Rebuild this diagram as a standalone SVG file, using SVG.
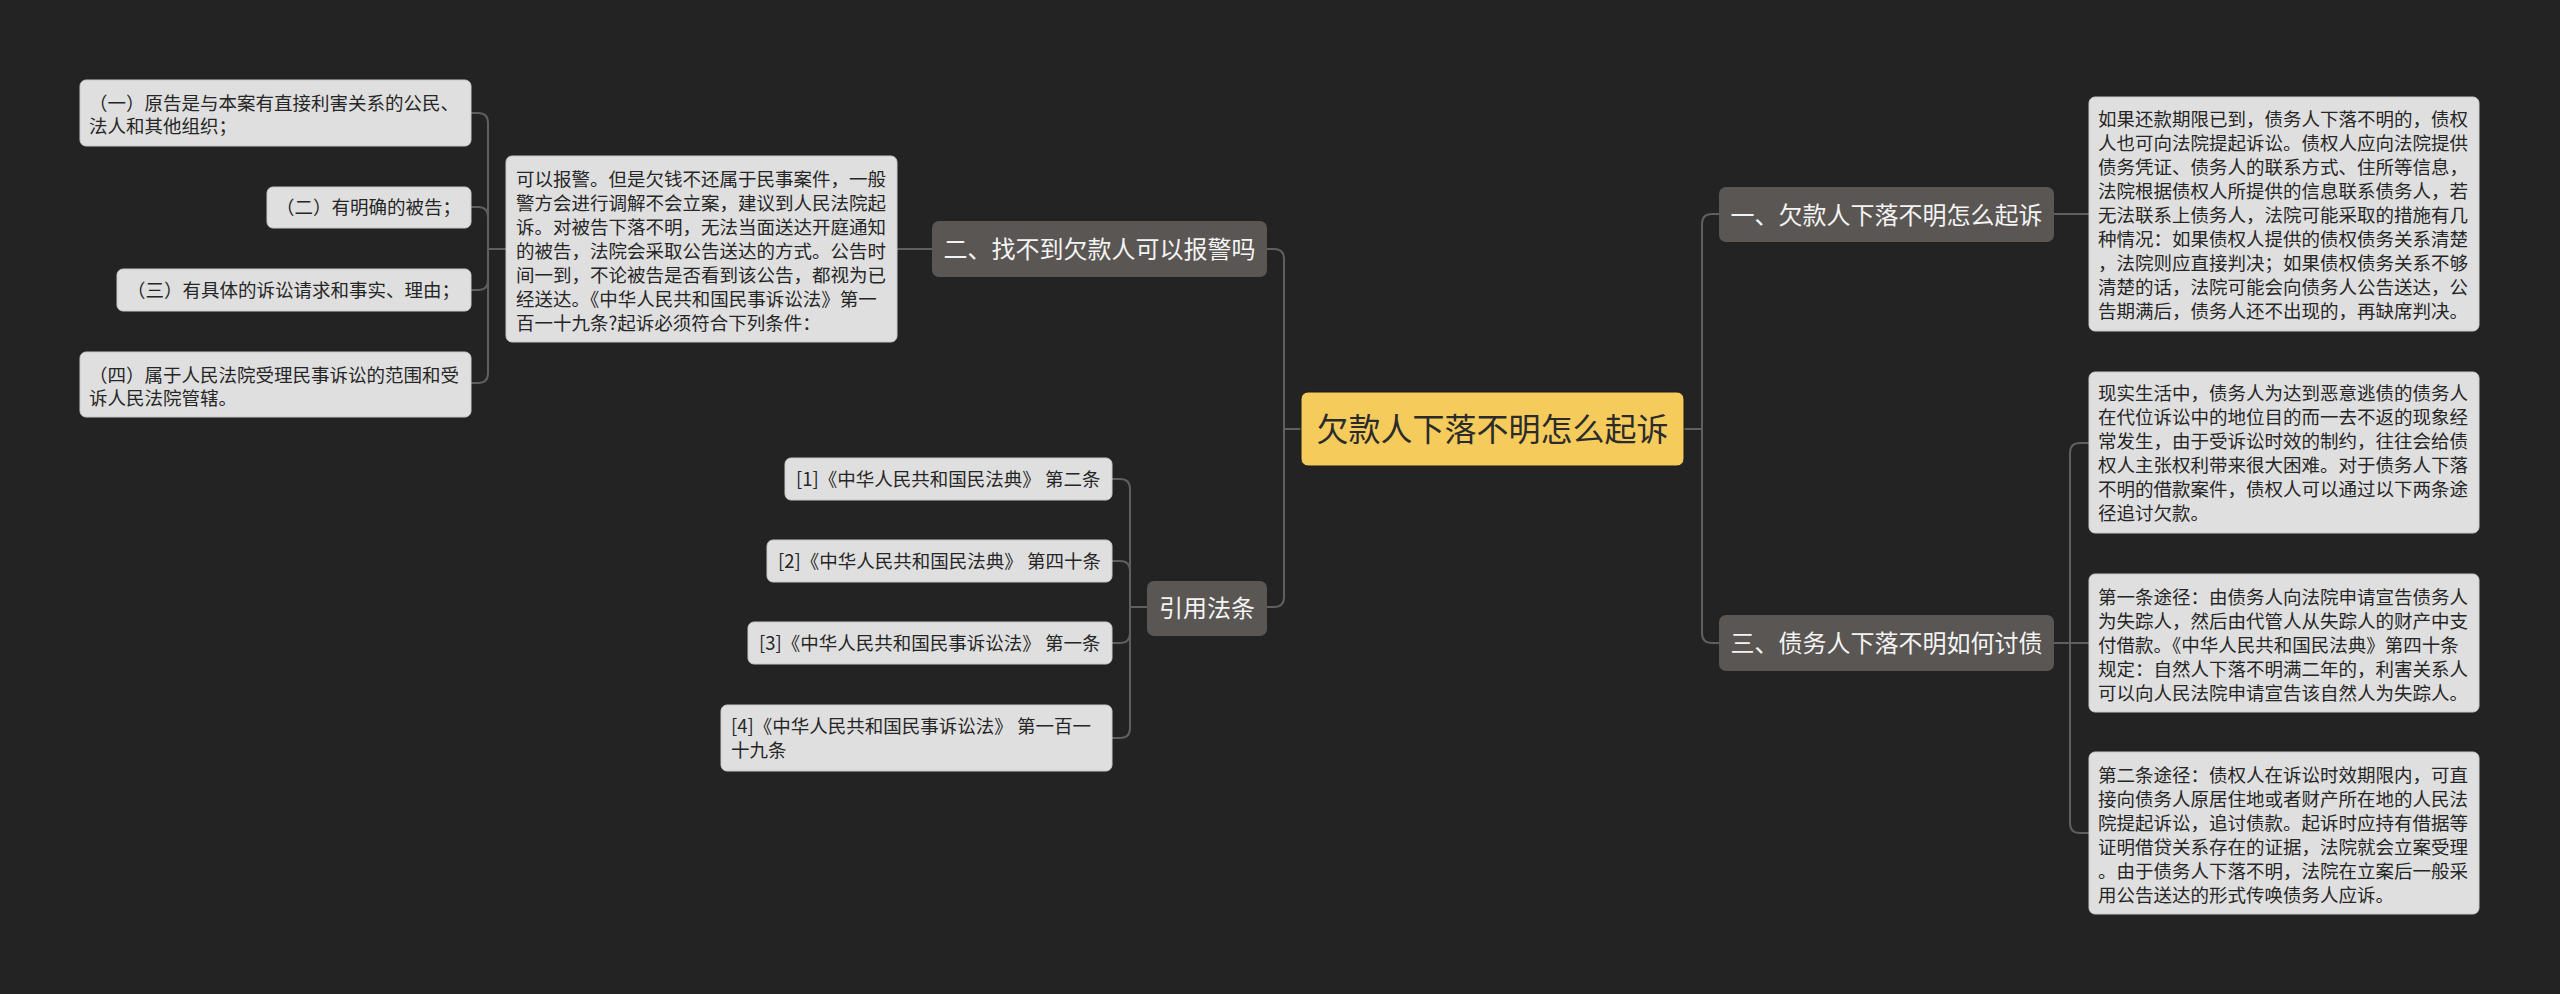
<svg xmlns="http://www.w3.org/2000/svg" width="2560" height="994" viewBox="0 0 2560 994">
<style>
text{font-family:"Noto Sans CJK SC","Noto Sans",sans-serif;}
.bg{fill:#232323;}
.root rect{fill:#f5cb5c;stroke:#1a1a1a;stroke-width:1;}
.root text{fill:#2b2b2b;font-size:32px;text-anchor:middle;}
.sub rect{fill:#5a5653;}
.sub text{fill:#f4f4f4;font-size:24px;text-anchor:middle;}
.leaf rect{fill:#dfdfdf;stroke:#c9c9c9;stroke-width:1;}
.leaf text{fill:#262626;font-size:18.5px;}
.conn path{fill:none;stroke:#5f5f5f;stroke-width:2;}
</style>
<rect class="bg" x="0" y="0" width="2560" height="994"/>

<g class="conn" id="connectors">
  <!-- root left -->
  <path d="M1301,429 H1284"/>
  <path d="M1267,249 H1274 Q1284,249 1284,259 V597 Q1284,607 1274,607 H1267"/>
  <!-- root right -->
  <path d="M1684,429 H1702"/>
  <path d="M1719,214 H1712 Q1702,214 1702,224 V633 Q1702,643 1712,643 H1719"/>
  <!-- 二 to detail -->
  <path d="M932,249 H897"/>
  <!-- detail to conditions -->
  <path d="M506,249 H488"/>
  <path d="M471,113 H478 Q488,113 488,123 V373 Q488,383 478,383 H471"/>
  <path d="M471,207 H478 Q488,207 488,217"/>
  <path d="M471,290 H478 Q488,290 488,280"/>
  <!-- 引用法条 to cites -->
  <path d="M1147,607 H1130"/>
  <path d="M1112,479 H1120 Q1130,479 1130,489 V728 Q1130,738 1120,738 H1112"/>
  <path d="M1112,561 H1120 Q1130,561 1130,571"/>
  <path d="M1112,643 H1120 Q1130,643 1130,633"/>
  <!-- 一 to detail -->
  <path d="M2054,214 H2089"/>
  <!-- 三 to details -->
  <path d="M2054,643 H2089"/>
  <path d="M2089,443 H2080 Q2070,443 2070,453 V823 Q2070,833 2080,833 H2089"/>
</g>

<g class="root" id="root">
  <rect x="1301" y="392" width="383" height="74" rx="7"/>
  <text x="1492.5" y="441">欠款人下落不明怎么起诉</text>
</g>

<g class="sub" id="n-yi">
  <rect x="1719" y="187" width="335" height="55" rx="7"/>
  <text x="1886.5" y="224">一、欠款人下落不明怎么起诉</text>
</g>
<g class="sub" id="n-san">
  <rect x="1719" y="615" width="335" height="56" rx="7"/>
  <text x="1886.5" y="652">三、债务人下落不明如何讨债</text>
</g>
<g class="sub" id="n-er">
  <rect x="932" y="221" width="335" height="56" rx="7"/>
  <text x="1099.5" y="258">二、找不到欠款人可以报警吗</text>
</g>
<g class="sub" id="n-cite">
  <rect x="1147" y="581" width="120" height="55" rx="7"/>
  <text x="1207" y="617">引用法条</text>
</g>

<g class="leaf" id="d-yi">
  <rect x="2089" y="97" width="390" height="234" rx="6"/>
  <text x="2098" y="126">如果还款期限已到，债务人下落不明的，债权</text>
  <text x="2098" y="150">人也可向法院提起诉讼。债权人应向法院提供</text>
  <text x="2098" y="174">债务凭证、债务人的联系方式、住所等信息，</text>
  <text x="2098" y="198">法院根据债权人所提供的信息联系债务人，若</text>
  <text x="2098" y="222">无法联系上债务人，法院可能采取的措施有几</text>
  <text x="2098" y="246">种情况：如果债权人提供的债权债务关系清楚</text>
  <text x="2098" y="270">，法院则应直接判决；如果债权债务关系不够</text>
  <text x="2098" y="294">清楚的话，法院可能会向债务人公告送达，公</text>
  <text x="2098" y="318">告期满后，债务人还不出现的，再缺席判决。</text>
</g>

<g class="leaf" id="d-san-0">
  <rect x="2089" y="372" width="390" height="161" rx="6"/>
  <text x="2098" y="400">现实生活中，债务人为达到恶意逃债的债务人</text>
  <text x="2098" y="424">在代位诉讼中的地位目的而一去不返的现象经</text>
  <text x="2098" y="448">常发生，由于受诉讼时效的制约，往往会给债</text>
  <text x="2098" y="472">权人主张权利带来很大困难。对于债务人下落</text>
  <text x="2098" y="496">不明的借款案件，债权人可以通过以下两条途</text>
  <text x="2098" y="520">径追讨欠款。</text>
</g>

<g class="leaf" id="d-san-1">
  <rect x="2089" y="574" width="390" height="138" rx="6"/>
  <text x="2098" y="604">第一条途径：由债务人向法院申请宣告债务人</text>
  <text x="2098" y="628">为失踪人，然后由代管人从失踪人的财产中支</text>
  <text x="2098" y="652">付借款。《中华人民共和国民法典》第四十条</text>
  <text x="2098" y="676">规定：自然人下落不明满二年的，利害关系人</text>
  <text x="2098" y="700">可以向人民法院申请宣告该自然人为失踪人。</text>
</g>

<g class="leaf" id="d-san-2">
  <rect x="2089" y="752" width="390" height="162" rx="6"/>
  <text x="2098" y="782">第二条途径：债权人在诉讼时效期限内，可直</text>
  <text x="2098" y="806">接向债务人原居住地或者财产所在地的人民法</text>
  <text x="2098" y="830">院提起诉讼，追讨债款。起诉时应持有借据等</text>
  <text x="2098" y="854">证明借贷关系存在的证据，法院就会立案受理</text>
  <text x="2098" y="878">。由于债务人下落不明，法院在立案后一般采</text>
  <text x="2098" y="902">用公告送达的形式传唤债务人应诉。</text>
</g>

<g class="leaf" id="d-er">
  <rect x="506" y="156" width="391" height="186" rx="6"/>
  <text x="516" y="186">可以报警。但是欠钱不还属于民事案件，一般</text>
  <text x="516" y="210">警方会进行调解不会立案，建议到人民法院起</text>
  <text x="516" y="234">诉。对被告下落不明，无法当面送达开庭通知</text>
  <text x="516" y="258">的被告，法院会采取公告送达的方式。公告时</text>
  <text x="516" y="282">间一到，不论被告是否看到该公告，都视为已</text>
  <text x="516" y="306">经送达。《中华人民共和国民事诉讼法》第一</text>
  <text x="516" y="330">百一十九条?起诉必须符合下列条件：</text>
</g>

<g class="leaf" id="c1">
  <rect x="80" y="80" width="391" height="66" rx="6"/>
  <text x="89" y="110">（一）原告是与本案有直接利害关系的公民、</text>
  <text x="89" y="133">法人和其他组织；</text>
</g>
<g class="leaf" id="c2">
  <rect x="267" y="187" width="204" height="41" rx="6"/>
  <text x="276" y="214">（二）有明确的被告；</text>
</g>
<g class="leaf" id="c3">
  <rect x="117" y="269" width="354" height="42" rx="6"/>
  <text x="127" y="297">（三）有具体的诉讼请求和事实、理由；</text>
</g>
<g class="leaf" id="c4">
  <rect x="80" y="352" width="391" height="65" rx="6"/>
  <text x="89" y="382">（四）属于人民法院受理民事诉讼的范围和受</text>
  <text x="89" y="405">诉人民法院管辖。</text>
</g>

<g class="leaf" id="cite1">
  <rect x="785" y="458" width="327" height="42" rx="6"/>
  <text x="796" y="486">[1]《中华人民共和国民法典》 第二条</text>
</g>
<g class="leaf" id="cite2">
  <rect x="767" y="540" width="345" height="42" rx="6"/>
  <text x="778" y="568">[2]《中华人民共和国民法典》 第四十条</text>
</g>
<g class="leaf" id="cite3">
  <rect x="748" y="622" width="364" height="42" rx="6"/>
  <text x="759" y="650">[3]《中华人民共和国民事诉讼法》 第一条</text>
</g>
<g class="leaf" id="cite4">
  <rect x="721" y="705" width="391" height="66" rx="6"/>
  <text x="731" y="733">[4]《中华人民共和国民事诉讼法》 第一百一</text>
  <text x="731" y="757">十九条</text>
</g>
</svg>
